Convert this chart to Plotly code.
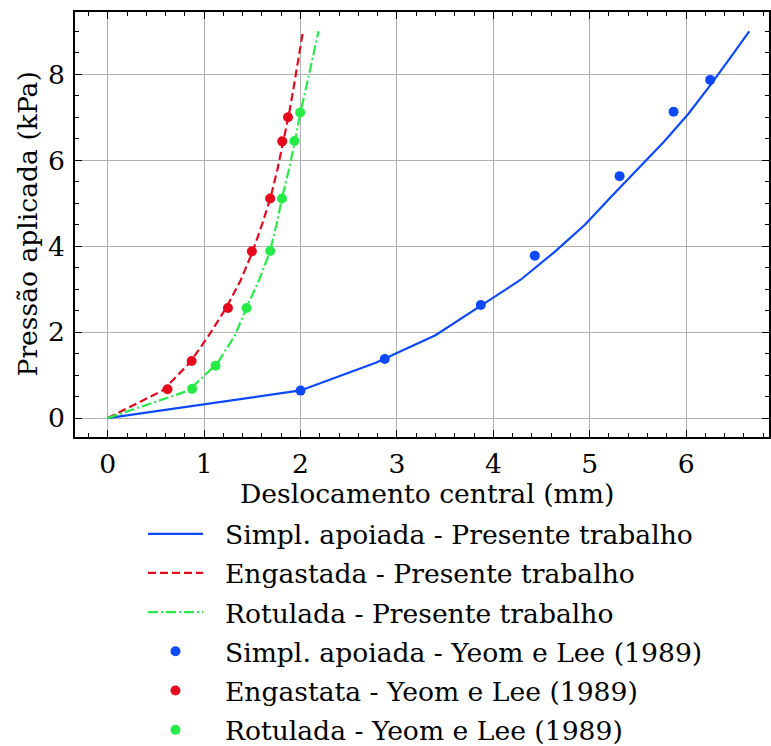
import plotly.graph_objects as go

# Present work (FEM) curves
ss_x = [0, 2.0, 2.78, 3.40, 3.84, 4.28, 4.63, 4.95, 5.22, 5.50, 5.77, 6.02, 6.24, 6.45, 6.655]
ss_y = [0, 0.643, 1.286, 1.929, 2.571, 3.214, 3.857, 4.5, 5.143, 5.786, 6.429, 7.071, 7.714, 8.357, 9.0]
cl_x = [0, 0.57, 0.85, 1.05, 1.23, 1.38, 1.50, 1.60, 1.69, 1.76, 1.82, 1.88, 1.93, 1.98, 2.025]
cl_y = ss_y
hi_x = [0, 0.84, 1.14, 1.32, 1.44, 1.57, 1.68, 1.75, 1.81, 1.88, 1.94, 1.995, 2.06, 2.12, 2.186]
hi_y = ss_y

# Yeom e Lee (1989)
yl_ss_x = [2.0, 2.874, 3.87, 4.43, 5.31, 5.87, 6.25]
yl_ss_y = [0.64, 1.375, 2.63, 3.78, 5.63, 7.13, 7.87]
yl_cl_x = [0.62, 0.87, 1.247, 1.495, 1.685, 1.81, 1.87]
yl_cl_y = [0.67, 1.33, 2.56, 3.88, 5.11, 6.44, 7.0]
yl_hi_x = [0.875, 1.118, 1.44, 1.685, 1.807, 1.937, 1.996]
yl_hi_y = [0.68, 1.22, 2.56, 3.89, 5.11, 6.45, 7.11]

BLUE, RED, GREEN = "#0d49fb", "#e6091c", "#26eb47"
FONT = "DejaVu Serif, Liberation Serif, serif"
FS = 26.6
PAD = "\u00a0\u00a0"

W, H = 771, 746
ML, MR, MT, MB = 75, 2, 12, 309
PW, PH = W - ML - MR, H - MT - MB

fig = go.Figure()
fig.add_trace(go.Scatter(x=ss_x, y=ss_y, mode="lines", name=PAD + "Simpl. apoiada - Presente trabalho",
                         legendgroup="a", line=dict(color=BLUE, width=2.2)))
fig.add_trace(go.Scatter(x=cl_x, y=cl_y, mode="lines", name=PAD + "Engastada - Presente trabalho",
                         legendgroup="b", line=dict(color=RED, width=2.2, dash="8px,4px")))
fig.add_trace(go.Scatter(x=hi_x, y=hi_y, mode="lines", name=PAD + "Rotulada - Presente trabalho",
                         legendgroup="c", line=dict(color=GREEN, width=2.2, dash="10px,3px,2px,3px")))
fig.add_trace(go.Scatter(x=yl_ss_x, y=yl_ss_y, mode="markers", name=PAD + "Simpl. apoiada - Yeom e Lee (1989)",
                         legendgroup="d", marker=dict(color=BLUE, size=10)))
fig.add_trace(go.Scatter(x=yl_cl_x, y=yl_cl_y, mode="markers", name=PAD + "Engastata - Yeom e Lee (1989)",
                         legendgroup="e", marker=dict(color=RED, size=10)))
fig.add_trace(go.Scatter(x=yl_hi_x, y=yl_hi_y, mode="markers", name=PAD + "Rotulada - Yeom e Lee (1989)",
                         legendgroup="f", marker=dict(color=GREEN, size=10)))

axis_common = dict(
    showline=True, linecolor="black", linewidth=1.5, mirror="allticks",
    ticks="inside", ticklen=7, tickwidth=1.2, tickcolor="black",
    showgrid=True, gridcolor="#b0b0b0", gridwidth=1, zeroline=False,
    tickfont=dict(family=FONT, size=FS, color="black"),
)
fig.update_xaxes(**axis_common, range=[-0.34, 6.86], dtick=1, tick0=0, ticklabelstandoff=2,
                 minor=dict(dtick=0.2, tick0=0, ticks="inside", ticklen=4, tickcolor="black", showgrid=False))
fig.update_yaxes(**axis_common, range=[-0.44, 9.45], dtick=2, tick0=0, ticklabelstandoff=3,
                 minor=dict(dtick=0.5, tick0=0, ticks="inside", ticklen=4, tickcolor="black", showgrid=False))

fig.add_annotation(text="Deslocamento central (mm)", xref="paper", yref="paper",
                   x=(427 - ML) / PW, y=(H - MB - 493) / PH, xanchor="center", yanchor="middle",
                   showarrow=False, font=dict(family=FONT, size=FS, color="black"))
fig.add_annotation(text="Pressão aplicada (kPa)", xref="paper", yref="paper",
                   x=(27 - ML) / PW, y=0.5, xanchor="center", yanchor="middle", textangle=-90,
                   showarrow=False, font=dict(family=FONT, size=FS, color="black"))

fig.update_layout(
    width=W, height=H,
    margin=dict(l=ML, r=MR, t=MT, b=MB, autoexpand=False),
    plot_bgcolor="white", paper_bgcolor="white",
    font=dict(family=FONT, size=FS, color="black"),
    legend=dict(x=143 / W, y=1 - 510 / H, xref="container", yref="container",
                xanchor="left", yanchor="top",
                font=dict(family=FONT, size=FS, color="black"),
                bgcolor="rgba(0,0,0,0)", itemwidth=55, tracegroupgap=1.6),
    showlegend=True,
)

fig.write_html("out.html", config={"displayModeBar": False},
               post_script="document.body.style.margin='0';document.body.style.overflow='hidden';")
